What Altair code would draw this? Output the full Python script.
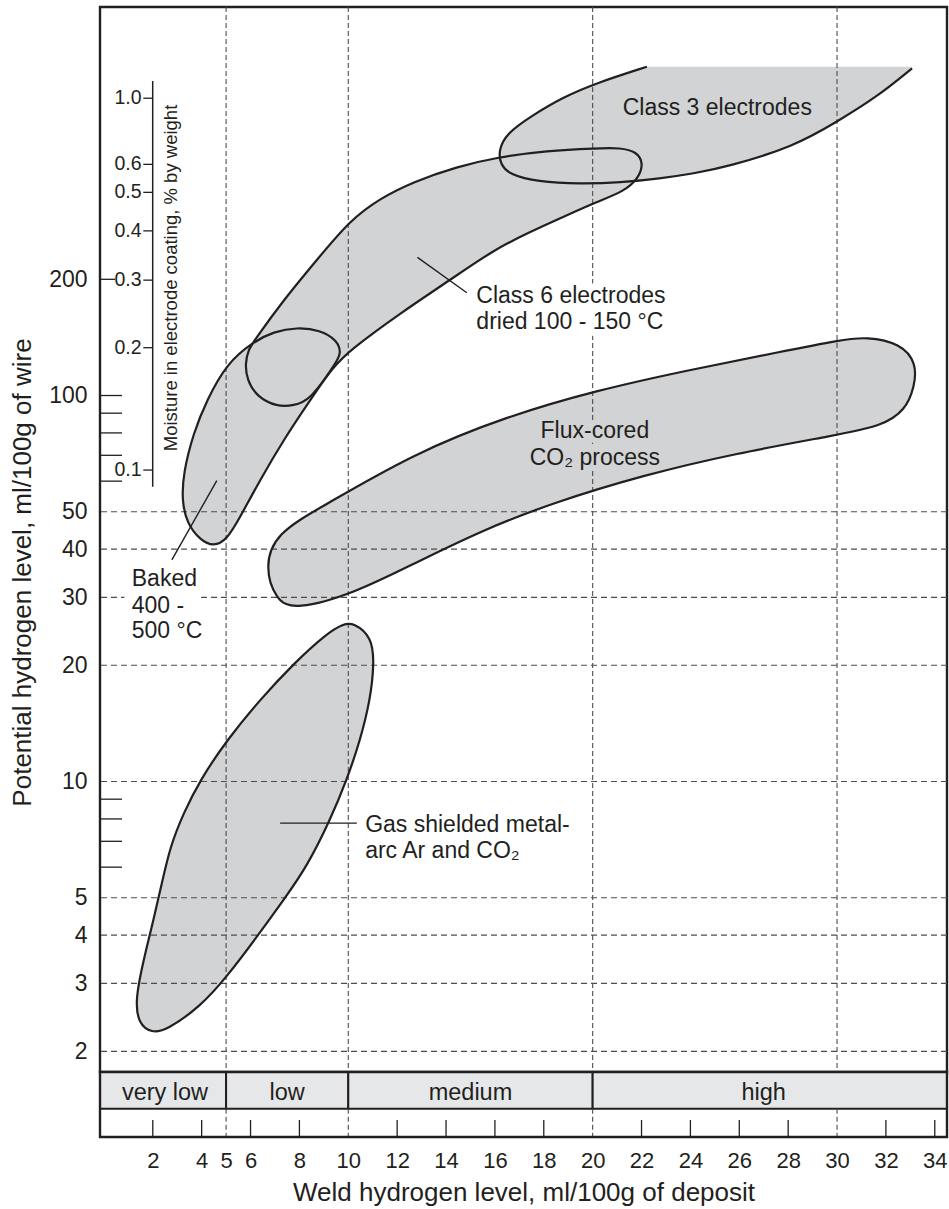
import altair as alt
import pandas as pd

FONT = "Liberation Sans"
INK = "#231f20"
SHADE = "#d1d3d4"
BAND_FILL = "#e6e7e8"
GRID = "#4d4d4f"

# scale extents and plot geometry
X_MIN, X_MAX = -0.16, 34.5
Y_MIN, Y_MAX = 1.768, 1015.0
W, H = 847, 1065
BAND_H = 36.7          # depth of the hydrogen-class strip under the plot
TICK_ZONE = 65         # strip + tick zone down to the lower frame edge

# ---------------------------------------------------------------- data
# region outlines: weld hydrogen (x) vs potential hydrogen (y)
gas_x = [10.21, 10.97, 11.06, 10.90, 10.49, 9.94, 9.26, 8.31, 7.35, 6.26, 5.03, 3.94, 2.57,
         1.96, 1.41, 1.28, 1.62, 2.03, 2.37, 2.71, 3.25, 3.94, 5.03, 6.39, 7.76, 9.12, 9.80]
gas_y = [25.8, 23.7, 20.2, 16.3, 12.8, 10.1, 7.95, 6.02, 4.93, 3.96, 3.12, 2.61, 2.27,
         2.23, 2.36, 2.72, 3.45, 4.38, 5.45, 6.78, 8.27, 10.1, 12.8, 16.3, 20.2, 24.2, 25.6]

flux_x = [31.19, 32.60, 33.26, 33.17, 32.80, 31.85, 29.98, 25.84, 22.08, 18.32, 15.50, 12.69,
          10.24, 7.80, 7.04, 6.57, 7.04, 8.92, 12.69, 16.44, 20.20, 23.96, 27.72, 30.16]
flux_y = [142, 136.5, 121.2, 105.4, 91.7, 83.4, 79.0, 70.8, 62.2, 52.6, 44.8, 36.7,
          30.7, 27.8, 29.5, 36.0, 44.0, 51.5, 70.8, 88.1, 103.3, 116.5, 129.9, 139.3]

baked_x = [4.48, 3.94, 3.39, 3.19, 3.25, 3.66, 4.21, 5.03, 6.12, 6.94, 7.90, 8.85, 9.53,
           9.74, 9.39, 8.44, 7.35, 6.39, 5.58, 5.03]
baked_y = [40.6, 42.2, 46.7, 53.6, 63.0, 79.9, 97.3, 121.2, 137.8, 146.3, 150.2, 147.8, 139.3,
           128.6, 118.8, 97.3, 76.7, 60.4, 48.5, 42.2]

class6_x = [6.12, 7.35, 8.71, 10.08, 11.31, 12.67, 14.45, 16.08, 18.13, 20.18, 21.13, 21.81,
            22.08, 21.88, 21.26, 20.18, 18.81, 17.45, 15.94, 14.17, 12.12, 10.08, 9.39, 8.44,
            7.76, 7.08, 6.26, 5.85, 5.78, 5.91]
class6_y = [137.8, 176.8, 224.4, 284.9, 324.3, 358, 391.5, 414, 430.8, 437, 438.5, 428,
            399.7, 365.3, 337.3, 317.8, 290.5, 265.7, 238.2, 199.2, 163.3, 131.2, 118.8, 97.3,
            94.1, 93.5, 99.3, 109.7, 121.2, 131.2]

# Class 3 region is open at the top: outline runs from its upper-left end to its upper-right end
class3_x = [22.22, 20.18, 18.81, 17.45, 16.49, 16.15, 16.22, 16.63, 17.72, 19.49, 21.13, 22.77,
            24.13, 25.50, 28.22, 30.0, 31.64, 33.07]
class3_y = [711, 646, 594, 528, 478, 433, 396, 373, 358, 353, 356, 365,
            376, 391, 441, 512, 594, 704]
CLASS3_TOP = 711

# annotations
label_text = ["Class 3 electrodes", "Class 6 electrodes", "dried 100 - 150 °C", "Flux-cored",
              "CO₂ process", "Gas shielded metal-", "arc Ar and CO₂", "Baked", "400 -", "500 °C"]
label_x = [25.10, 15.24, 15.24, 20.09, 20.09, 10.69, 10.69, 1.14, 1.14, 1.14]
label_y = [532.9, 174.0, 148.4, 77.5, 66.1, 7.41, 6.32, 32.1, 27.4, 23.5]
label_align = ["center", "left", "left", "center", "center", "left", "left", "left", "left", "left"]
label_halo = ["none", "#ffffff", "#ffffff", SHADE, SHADE, "none", "none", "#ffffff", "#ffffff", "#ffffff"]
label_halo_w = [0, 14, 14, 12, 12, 0, 0, 24, 24, 24]

# leader lines from labels into regions
pointer_x = [2.78, 12.83, 7.21]
pointer_y = [37.5, 228.0, 7.80]
pointer_x2 = [4.62, 14.85, 10.35]
pointer_y2 = [60.2, 184.6, 7.80]

# axes
y_tick_labels = [2, 3, 4, 5, 10, 20, 30, 40, 50, 100, 200]
y_minor_ticks = [6, 7, 8, 9, 60, 70, 80, 90, 100]
y_short_ticks = [200]
x_tick_labels = [2, 4, 5, 6, 8, 10, 12, 14, 16, 18, 20, 22, 24, 26, 28, 30, 32, 34]
x_solid_ticks = [2, 4, 6, 8, 12, 14, 16, 18, 22, 24, 26, 28, 32, 34]
h_grid = [2, 3, 4, 5, 10, 20, 30, 40, 50]
v_grid = [5, 10, 20, 30]

# moisture scale, each mark placed at its equivalent potential hydrogen level
moist_labels = ["1.0", "0.6", "0.5", "0.4", "0.3", "0.2", "0.1"]
moist_at = [589, 397, 336, 267, 199, 133, 64.1]
moist_span = [653, 58]

# weld hydrogen classes
band_names = ["very low", "low", "medium", "high"]
band_lo = [0, 5, 10, 20]
band_hi = [5, 10, 20, 34]

# ---------------------------------------------------------------- tables
def outline(name, xs, ys):
    return pd.DataFrame({"shape": name, "i": list(range(len(xs))), "x": xs, "y": ys})

closed_df = pd.concat([
    outline("gas", gas_x, gas_y),
    outline("flux", flux_x, flux_y),
    outline("baked", baked_x, baked_y),
    outline("class6", class6_x, class6_y),
], ignore_index=True)
class3_line_df = outline("class3", class3_x, class3_y)
# fill closes along the top edge of the region
class3_fill_df = outline("class3",
                         class3_x + [class3_x[-1], class3_x[-1], class3_x[0], class3_x[0]],
                         class3_y + [CLASS3_TOP, CLASS3_TOP, CLASS3_TOP, CLASS3_TOP])

labels_df = pd.DataFrame({"text": label_text, "x": label_x, "y": label_y, "align": label_align,
                          "halo": label_halo, "hw": label_halo_w})
pointer_df = pd.DataFrame({"x": pointer_x, "y": pointer_y, "x2": pointer_x2, "y2": pointer_y2})
band_df = pd.DataFrame({
    "name": band_names,
    "x0": [X_MIN] + band_lo[1:],
    "x1": band_hi[:-1] + [X_MAX],
    "mid": [(a + b) / 2 for a, b in zip(band_lo, band_hi)],
})
moist_df = pd.DataFrame({"label": moist_labels, "y": moist_at})
one_row = pd.DataFrame({"a": [0]})

# ---------------------------------------------------------------- encodings
XS = alt.Scale(domain=[X_MIN, X_MAX], nice=False, zero=False)
YS = alt.Scale(type="log", domain=[Y_MIN, Y_MAX], nice=False)

X_AXIS = alt.Axis(values=x_tick_labels, format="d", title="Weld hydrogen level, ml/100g of deposit",
                  orient="bottom", offset=TICK_ZONE, domain=False, ticks=False, grid=False,
                  labelPadding=13, labelFontSize=22, titleFontSize=26, titlePadding=8,
                  titleFontWeight=400, labelFont=FONT, titleFont=FONT,
                  labelColor=INK, titleColor=INK, labelFlush=False, labelOverlap=False)
Y_AXIS = alt.Axis(values=y_tick_labels, format="d", title="Potential hydrogen level, ml/100g of wire",
                  domain=False, ticks=False, grid=False, labelPadding=13, labelFontSize=23,
                  titleFontSize=26, titleX=-70, titleY=565, titleAngle=270,
                  titleBaseline="alphabetic", titleAlign="center", titleFontWeight=400,
                  labelFont=FONT, titleFont=FONT, labelColor=INK, titleColor=INK,
                  labelFlush=False, labelOverlap=False)


def X(field):
    return alt.X(f"{field}:Q", scale=XS, axis=X_AXIS)


def Y(field):
    return alt.Y(f"{field}:Q", scale=YS, axis=Y_AXIS)


# ---------------------------------------------------------------- layers
fills = alt.Chart(closed_df).mark_line(
    interpolate="basis-closed", fill=SHADE, strokeOpacity=0, clip=True
).encode(x=X("x"), y=Y("y"), detail="shape:N", order="i:Q")

class3_fill = alt.Chart(class3_fill_df).mark_line(
    interpolate="basis-closed", fill=SHADE, strokeOpacity=0, clip=True
).encode(x=X("x"), y=Y("y"), order="i:Q")

h_lines = alt.Chart(pd.DataFrame({"y": h_grid})).mark_rule(
    stroke=GRID, strokeWidth=1.1, strokeDash=[6, 4]
).encode(y=Y("y"))

v_lines = alt.Chart(pd.DataFrame({"x": v_grid})).mark_rule(
    stroke=GRID, strokeWidth=1.1, strokeDash=[5, 3]
).encode(x=X("x"), y=alt.value(0), y2=alt.value(H))

v_lines_low = alt.Chart(pd.DataFrame({"x": v_grid})).mark_rule(
    stroke=GRID, strokeWidth=1.1, strokeDash=[5, 3]
).encode(x=X("x"), y=alt.value(H + BAND_H), y2=alt.value(H + TICK_ZONE))


def text_layer(align, halo):
    base = alt.Chart(labels_df).transform_filter(f"datum.align == '{align}'")
    if halo:
        return base.transform_filter("datum.hw > 0").mark_text(
            align=align, baseline="alphabetic", font=FONT, fontSize=23, strokeJoin="round"
        ).encode(x=X("x"), y=Y("y"), text="text:N",
                 fill=alt.Fill("halo:N", scale=None), stroke=alt.Stroke("halo:N", scale=None),
                 strokeWidth=alt.StrokeWidth("hw:Q", scale=None))
    return base.mark_text(
        align=align, baseline="alphabetic", font=FONT, fontSize=23, fill=INK
    ).encode(x=X("x"), y=Y("y"), text="text:N")


outlines = alt.Chart(closed_df).mark_line(
    interpolate="basis-closed", stroke=INK, strokeWidth=2.2, clip=True
).encode(x=X("x"), y=Y("y"), detail="shape:N", order="i:Q")

class3_outline = alt.Chart(class3_line_df).mark_line(
    interpolate="basis", stroke=INK, strokeWidth=2.2, clip=True
).encode(x=X("x"), y=Y("y"), order="i:Q")

pointers = alt.Chart(pointer_df).mark_rule(stroke=INK, strokeWidth=1.4).encode(
    x=X("x"), y=Y("y"), x2="x2:Q", y2="y2:Q")

minor_ticks = alt.Chart(pd.DataFrame({"y": y_minor_ticks})).mark_rule(
    stroke=INK, strokeWidth=1.3).encode(y=Y("y"), x=alt.value(0), x2=alt.value(22))
short_ticks = alt.Chart(pd.DataFrame({"y": y_short_ticks})).mark_rule(
    stroke=INK, strokeWidth=1.3).encode(y=Y("y"), x=alt.value(0), x2=alt.value(15))

moist_line = alt.Chart(pd.DataFrame({"y": [moist_span[0]], "y2": [moist_span[1]]})).mark_rule(
    stroke=INK, strokeWidth=1.5).encode(y=Y("y"), y2="y2:Q", x=alt.value(52.7))
moist_ticks = alt.Chart(moist_df).mark_rule(stroke=INK, strokeWidth=1.3).encode(
    y=Y("y"), x=alt.value(43.3), x2=alt.value(52.7))
moist_text = alt.Chart(moist_df).mark_text(
    align="right", baseline="middle", font=FONT, fontSize=19.5, fill=INK
).encode(y=Y("y"), x=alt.value(41.5), text="label:N")
moist_title = alt.Chart(one_row).mark_text(
    text="Moisture in electrode coating, % by weight", angle=270, align="center",
    baseline="alphabetic", font=FONT, fontSize=18.5, fill=INK
).encode(x=alt.value(76.5), y=alt.value(271))

bands = alt.Chart(band_df).mark_rect(fill=BAND_FILL, stroke=INK, strokeWidth=2).encode(
    x=X("x0"), x2="x1:Q", y=alt.value(H), y2=alt.value(H + BAND_H))
band_text = alt.Chart(band_df).mark_text(
    align="center", baseline="alphabetic", font=FONT, fontSize=23.5, fill=INK
).encode(x=X("mid"), y=alt.value(H + 28), text="name:N")

lower_frame = alt.Chart(one_row).mark_rect(fillOpacity=0, stroke=INK, strokeWidth=2.4).encode(
    x=alt.value(0), x2=alt.value(W), y=alt.value(H), y2=alt.value(H + TICK_ZONE))

x_ticks = alt.Chart(pd.DataFrame({"x": x_solid_ticks})).mark_rule(
    stroke=INK, strokeWidth=1.3).encode(x=X("x"), y=alt.value(H + TICK_ZONE - 17),
                                        y2=alt.value(H + TICK_ZONE))

chart = alt.layer(
    fills, class3_fill, h_lines, v_lines,
    text_layer("left", True), text_layer("center", True),
    outlines, class3_outline, pointers,
    text_layer("left", False), text_layer("center", False),
    minor_ticks, short_ticks, moist_line, moist_ticks, moist_text, moist_title,
    bands, band_text, v_lines_low, x_ticks, lower_frame,
).properties(
    width=W, height=H, autosize="none", background="white",
    padding={"left": 100, "top": 7, "right": 2, "bottom": 137},
).configure_view(
    stroke=INK, strokeWidth=2.4
)

chart.save("out.html", embed_options={"renderer": "svg", "actions": False})
